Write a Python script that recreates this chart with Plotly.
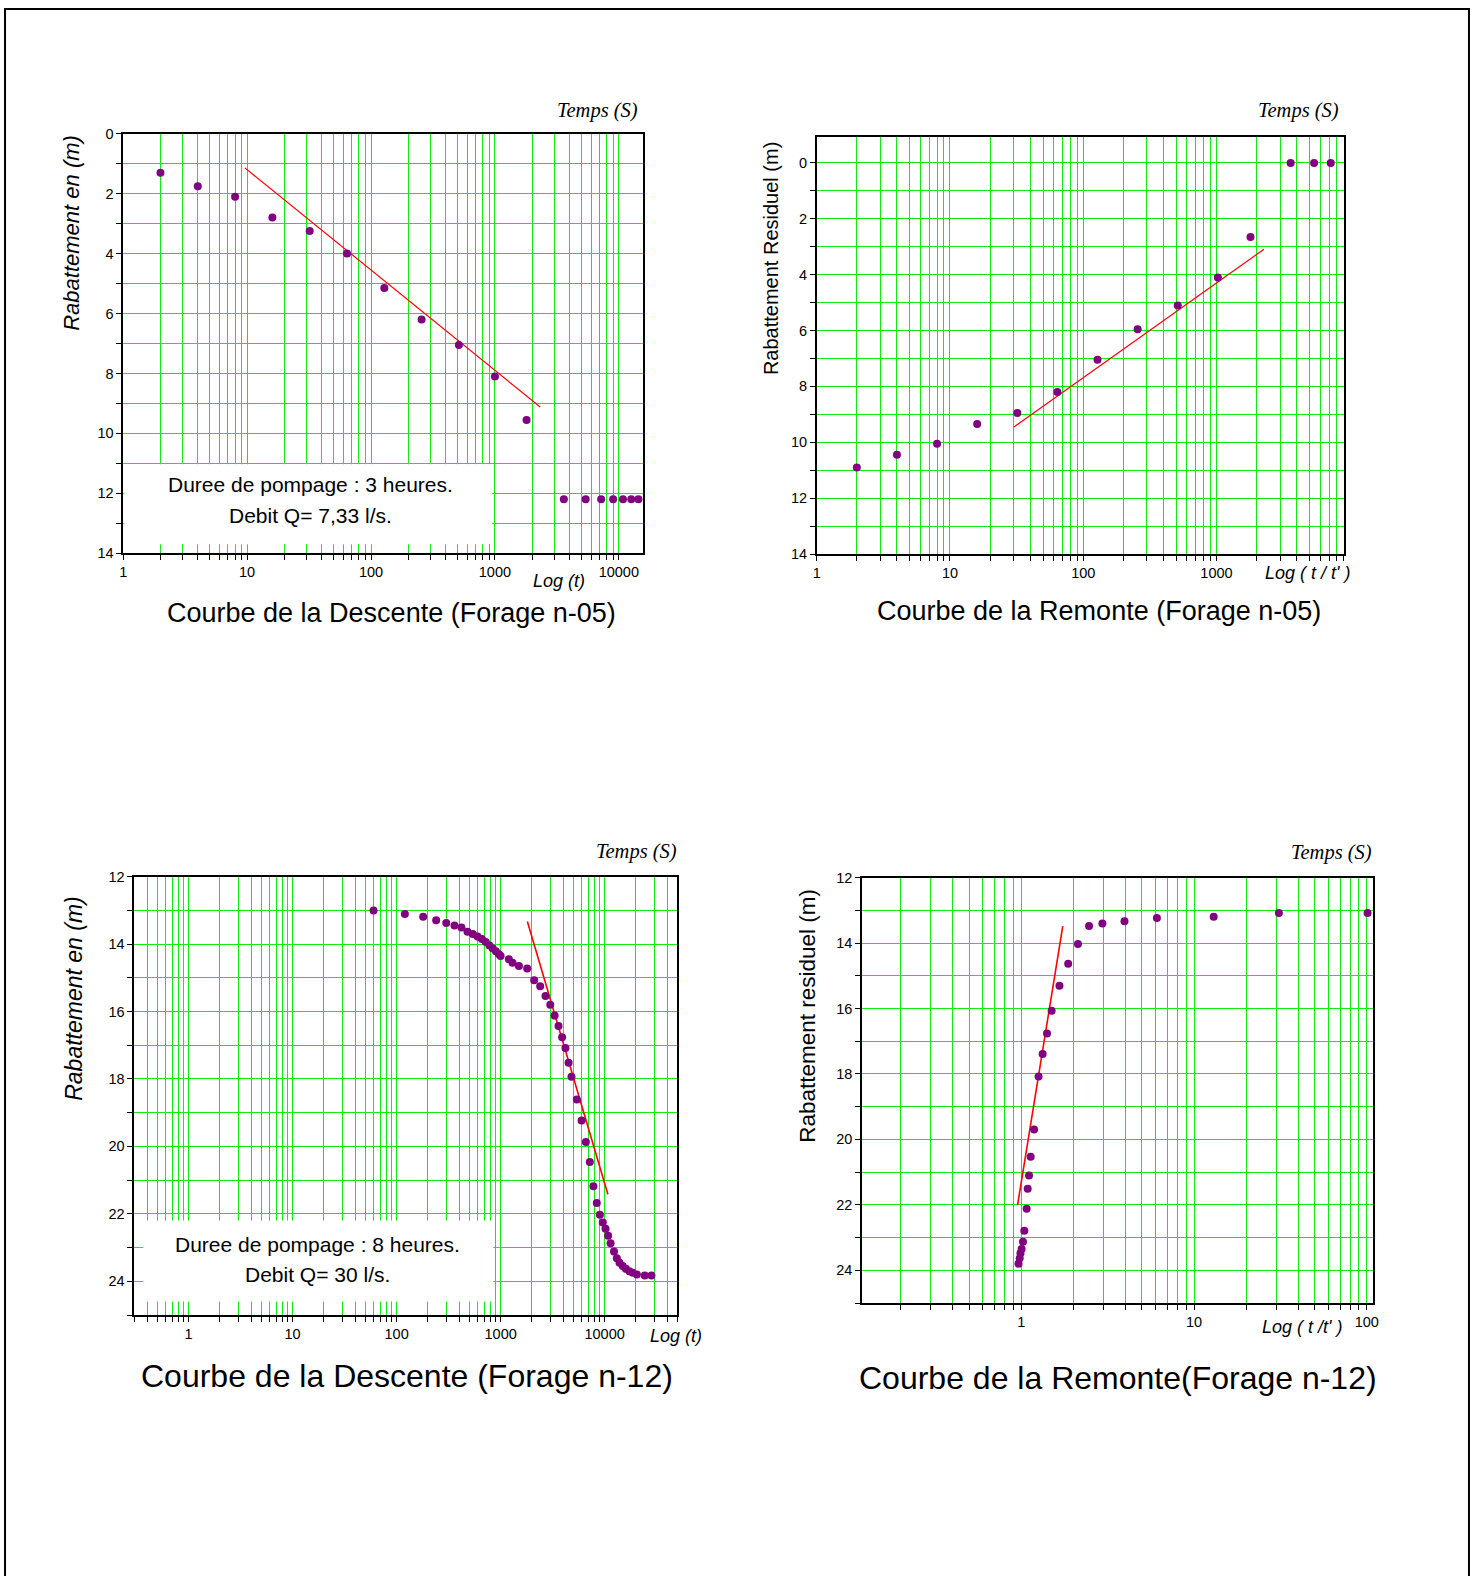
import plotly.graph_objects as go
import numpy as np

W, H = 1483, 1576
# Observed: the plot area is drawn 8 px in from each window edge, 16 px smaller
# than the layout size; positions are mapped into that drawn region.
OFF = 8
DW, DH = W - 2 * OFF, H - 2 * OFF

# ---------------- data ----------------
# Panel 1: Descente Forage n-05
t1 = [2, 4, 8, 16, 32, 64, 128, 256, 512, 1000, 1800, 3600, 5400, 7200, 9000, 10800, 12600, 14400]
s1 = [1.3, 1.75, 2.1, 2.8, 3.25, 4.0, 5.15, 6.2, 7.05, 8.1, 9.55, 12.2, 12.2, 12.2, 12.2, 12.2, 12.2, 12.2]
fit1_t = [9.6, 2320]
fit1_s = [1.14, 9.12]

# Panel 2: Remonte Forage n-05
t2 = [2, 4, 8, 16, 32, 64, 128, 256, 512, 1024, 1800, 3600, 5400, 7200]
s2 = [10.9, 10.45, 10.05, 9.35, 8.95, 8.2, 7.05, 5.95, 5.1, 4.1, 2.65, 0.0, 0.0, 0.0]
fit2_t = [30, 2270]
fit2_s = [9.46, 3.09]

# Panel 3: Descente Forage n-12
t3 = [60, 120, 180, 240, 300, 360, 420, 480, 540, 600, 660, 720, 780, 840, 900, 960, 1000,
      1200, 1300, 1500, 1800, 2100, 2400, 2700, 3000, 3300, 3600, 3900, 4200, 4500, 4800,
      5400, 6000, 6600, 7200, 7800, 8400, 9000, 9600, 10200, 10800, 11400, 12300, 13100,
      13900, 14900, 16000, 17300, 18600, 20400, 24300, 28200]
s3 = [13.0, 13.11, 13.19, 13.29, 13.37, 13.45, 13.51, 13.63, 13.70, 13.77, 13.85, 13.94, 14.04,
      14.13, 14.21, 14.29, 14.35, 14.45, 14.55, 14.65, 14.72, 15.07, 15.25, 15.54, 15.80, 16.12,
      16.43, 16.76, 17.08, 17.52, 17.93, 18.61, 19.23, 19.87, 20.46, 21.18, 21.68, 22.03, 22.26,
      22.44, 22.65, 22.87, 23.12, 23.32, 23.45, 23.55, 23.63, 23.70, 23.75, 23.80, 23.83, 23.83]
fit3_t = [1807, 10740]
fit3_s = [13.33, 21.42]

# Panel 4: Remonte Forage n-12
t4 = [101, 31, 13, 6.1, 3.96, 2.95, 2.47, 2.13, 1.87, 1.665, 1.50, 1.41, 1.33, 1.26, 1.187,
      1.134, 1.11, 1.09, 1.075, 1.042, 1.024, 1.005, 0.99, 0.98, 0.965]
s4 = [13.08, 13.08, 13.19, 13.23, 13.33, 13.40, 13.48, 14.03, 14.63, 15.30, 16.07, 16.76, 17.39,
      18.08, 19.70, 20.53, 21.10, 21.51, 22.12, 22.79, 23.13, 23.35, 23.48, 23.63, 23.80]
fit4_t = [0.953, 1.74]
fit4_s = [22.0, 13.48]

titles = ["Courbe de la Descente (Forage n-05)", "Courbe de la Remonte (Forage n-05)",
          "Courbe de la Descente (Forage n-12)", "Courbe de la Remonte(Forage n-12)"]
ytitles = ["Rabattement en (m)", "Rabattement Residuel (m)",
           "Rabattement en (m)", "Rabattement residuel (m)"]
xlabels = ["Log (t)", "Log ( t / t' )", "Log (t)", "Log ( t /t' )"]
box_lines = [["Duree de pompage : 3 heures.", "Debit Q= 7,33 l/s."],
             ["Duree de pompage : 8 heures.", "Debit Q= 30 l/s."]]

# ---------------- layout geometry (window pixels) ----------------
def px(x):
    return (x - OFF) / DW

def py(y):
    return 1 - (y - OFF) / DH

panels = [
    dict(x=(126.7, 644.5), y=(133.7, 553.3), xr=(1, 15700), yr=(14, 0), yt=list(range(0, 15))),
    dict(x=(817.4, 1342.2), y=(136.7, 554.0), xr=(1, 9000), yr=(14, -0.94), yt=list(range(0, 15))),
    dict(x=(137.7, 678.6), y=(876.7, 1315.0), xr=(0.3, 50000), yr=(25, 12), yt=list(range(12, 26))),
    dict(x=(862.6, 1371.0), y=(877.7, 1303.0), xr=(0.12, 108), yr=(25, 12), yt=list(range(12, 26))),
]

def log_ticks(lo, hi):
    vals = []
    for e in range(-2, 6):
        for m in range(1, 10):
            v = m * 10.0 ** e
            if lo * 0.999 <= v <= hi * 1.001:
                vals.append(v)
    return vals

def log_text(v):
    lv = np.log10(v)
    if abs(lv - round(lv)) < 1e-9 and v >= 1:
        return str(int(round(v)))
    return ""

GRID = "rgb(20,235,20)"
SANS = "Liberation Sans, Arial, sans-serif"
SERIF = "Liberation Serif, Times New Roman, serif"
TICKF = dict(family=SANS, size=14.5, color="black")

fig = go.Figure()
layout = dict(width=W, height=H, margin=dict(l=0, r=0, t=0, b=0),
              paper_bgcolor="white", plot_bgcolor="white", showlegend=False)
annotations = []
shapes = []

data_sets = [(t1, s1, fit1_t, fit1_s, 1.2), (t2, s2, fit2_t, fit2_s, 1.2),
             (t3, s3, fit3_t, fit3_s, 1.6), (t4, s4, fit4_t, fit4_s, 1.6)]

for i, p in enumerate(panels):
    k = i + 1
    xn = "x" if k == 1 else f"x{k}"
    yn = "y" if k == 1 else f"y{k}"
    xd = [px(p["x"][0]), px(p["x"][1])]
    yd = [py(p["y"][1]), py(p["y"][0])]
    tv = log_ticks(*p["xr"])
    tt = [log_text(v) for v in tv]
    xrange = [np.log10(p["xr"][0]), np.log10(p["xr"][1])]
    ytext = [str(v) if v % 2 == 0 else "" for v in p["yt"]]

    layout[f"xaxis{k}"] = dict(
        domain=xd, anchor=yn, type="log", range=xrange, tickvals=tv, ticktext=tt,
        showgrid=True, gridcolor=GRID, gridwidth=1.3, ticks="outside", ticklen=5,
        tickcolor="black", tickwidth=1, showline=True, linecolor="black", linewidth=1.5,
        mirror=True, zeroline=False, tickfont=TICKF, fixedrange=True)
    layout[f"yaxis{k}"] = dict(
        domain=yd, anchor=xn, range=list(p["yr"]), tickvals=p["yt"], ticktext=ytext,
        showgrid=True, gridcolor=GRID, gridwidth=1.3, ticks="outside", ticklen=5,
        tickcolor="black", tickwidth=1, showline=True, linecolor="black", linewidth=1.5,
        mirror=True, zeroline=False, tickfont=TICKF, fixedrange=True)
    # mirrored inside ticks (top and right)
    k2 = k + 4
    layout[f"xaxis{k2}"] = dict(
        overlaying=xn, side="top", anchor=yn, type="log", range=xrange, tickvals=tv,
        showticklabels=False, showgrid=False, ticks="inside", ticklen=4, tickcolor="black",
        showline=False, zeroline=False, fixedrange=True)
    layout[f"yaxis{k2}"] = dict(
        overlaying=yn, side="right", anchor=xn, range=list(p["yr"]), tickvals=p["yt"],
        showticklabels=False, showgrid=False, ticks="inside", ticklen=6, tickcolor="black",
        showline=False, zeroline=False, fixedrange=True)

    t, s, ft, fs, lw = data_sets[i]
    fig.add_trace(go.Scatter(x=ft, y=fs, mode="lines", xaxis=xn, yaxis=yn,
                             line=dict(color="red", width=lw), hoverinfo="skip"))
    fig.add_trace(go.Scatter(x=t, y=s, mode="markers", xaxis=xn, yaxis=yn,
                             marker=dict(color="#800080", size=8)))

# white boxes hiding the grid
shapes.append(dict(type="rect", xref="x", yref="y", x0=1.02, x1=950, y0=11.03, y1=13.7,
                   fillcolor="white", line=dict(width=0), layer="between"))
shapes.append(dict(type="rect", xref="x3", yref="y3", x0=0.365, x1=850, y0=22.2, y1=24.6,
                   fillcolor="white", line=dict(width=0), layer="between"))
# outer frame
shapes.append(dict(type="rect", xref="paper", yref="paper", x0=0.0007, x1=px(1467),
                   y0=-0.01, y1=0.9993, line=dict(color="black", width=2)))

def ann(x, y, text, font, **kw):
    d = dict(xref="paper", yref="paper", x=px(x), y=py(y), text=text, showarrow=False,
             xanchor="center", yanchor="middle", font=font)
    d.update(kw)
    annotations.append(d)

# box texts
box_pos = [[(313.5, 484), (313.7, 515)], [(320.7, 1244), (320.7, 1274)]]
for lines, pos in zip(box_lines, box_pos):
    for txt, (x, y) in zip(lines, pos):
        ann(x, y, txt, dict(family=SANS, size=21, color="black"))

# "Temps (S)"
for (x, y) in [(641, 111), (1340, 111), (680, 851), (1372, 853)]:
    ann(x, y, "<i>Temps (S)</i>", dict(family=SERIF, size=20.5, color="black"), xanchor="right")

# Log labels
for (x, y), lab in zip([(561, 581), (1306, 573), (677, 1336), (1301, 1327)], xlabels):
    ann(x, y, f"<i>{lab}</i>", dict(family=SANS, size=18, color="black"))

# y titles
ytpos = [(75.5, 233, 22), (772, 259, 20), (77.5, 998, 23), (807.5, 1016, 22.5)]
for j, ((x, y, sz), lab) in enumerate(zip(ytpos, ytitles)):
    txt = f"<i>{lab}</i>" if j in (0, 2) else lab
    ann(x, y, txt, dict(family=SANS, size=sz, color="black"), textangle=-90)

# titles
for (x, y, sz), lab in zip([(393.6, 613, 27), (1099, 611, 27), (409.7, 1376, 32), (1117.5, 1378, 32)], titles):
    ann(x, y, lab, dict(family=SANS, size=sz, color="black"))

layout["annotations"] = annotations
layout["shapes"] = shapes
fig.update_layout(**layout)
fig.write_html("out.html")
